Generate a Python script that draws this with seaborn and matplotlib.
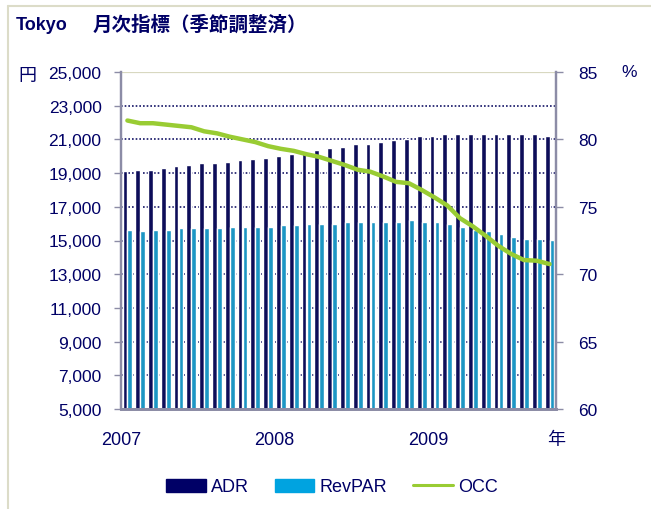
import numpy as np
import pandas as pd
import matplotlib.pyplot as plt
from matplotlib.lines import Line2D
from matplotlib.patches import Patch
import seaborn as sns

# monthly values, Jan 2007 - Oct 2009 (seasonally adjusted)
months = pd.date_range("2007-01", periods=34, freq="MS").strftime("%Y-%m")
adr = [19100, 19200, 19200, 19300, 19400, 19500, 19600, 19600, 19650, 19750,
       19850, 19900, 20000, 20150, 20300, 20400, 20500, 20550, 20700, 20750,
       20850, 20950, 21050, 21200, 21200, 21350, 21300, 21350, 21350, 21350,
       21300, 21300, 21300, 21200]
revpar = [15650, 15550, 15650, 15650, 15750, 15750, 15750, 15750, 15800, 15800,
          15800, 15800, 15900, 15900, 16000, 16000, 16000, 16100, 16100, 16100,
          16100, 16100, 16200, 16100, 16100, 16000, 15800, 15650, 15550, 15400,
          15200, 15100, 15100, 15050]
occ = [81.4, 81.2, 81.2, 81.1, 81.0, 80.9, 80.6, 80.45, 80.2, 80.0,
       79.8, 79.5, 79.3, 79.15, 78.9, 78.7, 78.4, 78.1, 77.75, 77.6,
       77.25, 76.85, 76.75, 76.25, 75.7, 75.1, 74.15, 73.55, 72.85, 72.1,
       71.5, 71.05, 71.0, 70.75]
year_labels = ["2007", "2008", "2009", "年"]
year_pos = [-0.5, 11.5, 23.5, 33.5]

navy = "#000066"
light = "#00a3e0"
green = "#99cc33"
grey = "#8c8ca6"

sns.set_style("white")
plt.rcParams["font.family"] = ["Liberation Sans", "Noto Sans CJK JP", "DejaVu Sans"]

df = pd.DataFrame({"month": list(months) * 2,
                   "value": adr + revpar,
                   "series": ["ADR"] * 34 + ["RevPAR"] * 34})

fig = plt.figure(figsize=(6.51, 5.1), dpi=100)
ax = fig.add_axes([121 / 651, 1 - 410 / 510, (556 - 121) / 651, (410 - 73) / 510])

sns.barplot(data=df, x="month", y="value", hue="series",
            palette={"ADR": navy, "RevPAR": light},
            width=0.78, gap=0.04, legend=False, ax=ax)
ax.set_ylim(5000, 25000)
ax.set_yticks(range(5000, 25001, 2000))
ax.set_yticklabels([f"{v:,}" for v in range(5000, 25001, 2000)])
ax.set_axisbelow(True)
ax.yaxis.grid(True, linestyle=(0, (1, 1.2)), color="#141466", linewidth=1.2)
ax.get_ygridlines()[-1].set_color("#d8d8c0")
ax.get_ygridlines()[-1].set_linestyle("-")
ax.get_ygridlines()[-1].set_linewidth(1.6)
ax.set_xlabel("")
ax.set_ylabel("")

ax2 = ax.twinx()
sns.lineplot(x=np.arange(len(occ)), y=occ, color=green, linewidth=3.2, ax=ax2)
ax2.set_ylim(60, 85)
ax2.set_yticks(range(60, 86, 5))
ax.set_xlim(-0.5, 33.5)
ax.set_xticks(year_pos)
ax.set_xticklabels(year_labels)

for a in (ax, ax2):
    a.spines["top"].set_visible(False)
    for s in ("left", "right", "bottom"):
        a.spines[s].set_color(grey)
    a.spines["left"].set_linewidth(1.6)
    a.spines["right"].set_linewidth(1.6)
    a.spines["bottom"].set_linewidth(2)
ax.tick_params(axis="y", length=5, width=1, color=grey, pad=9,
               labelsize=12.5, labelcolor=navy)
ax.tick_params(axis="x", length=0, pad=16, labelsize=13, labelcolor=navy)
ax2.tick_params(axis="y", length=5, width=1, color=grey, pad=11,
                labelsize=12.5, labelcolor=navy)

fig.text(27 / 651, 1 - 76 / 510, "円", ha="center", va="center",
         fontsize=13, color=navy)
fig.text(629 / 651, 1 - 73 / 510, "%", ha="center", va="center",
         fontsize=12.5, color=navy)
fig.text(16 / 651, 1 - 25 / 510, "Tokyo", ha="left", va="center",
         fontsize=13, fontweight="bold", color=navy)
fig.text(93 / 651, 1 - 25 / 510, "月次指標（季節調整済）", ha="left", va="center",
         fontsize=14, fontweight="bold", color=navy,
         family=["Noto Sans CJK JP", "DejaVu Sans"])

# frame of the chart area
fig.add_artist(Line2D([8 / 651, 8 / 651], [0, 1 - 7 / 510],
                      color="#dcdcc8", linewidth=1.5))
fig.add_artist(Line2D([8 / 651, 1], [1 - 7 / 510, 1 - 7 / 510],
                      color="#dcdcc8", linewidth=1.5))

handles = [Patch(color=navy, label="ADR"),
           Patch(color=light, label="RevPAR"),
           Line2D([], [], color=green, linewidth=2.2, label="OCC")]
fig.legend(handles=handles, loc="center", bbox_to_anchor=(332 / 651, 1 - 488 / 510),
           ncol=3, frameon=False, fontsize=13, handlelength=2.2,
           handletextpad=0.3, columnspacing=1.4, labelcolor=navy)

fig.savefig("out.png", dpi=100)
